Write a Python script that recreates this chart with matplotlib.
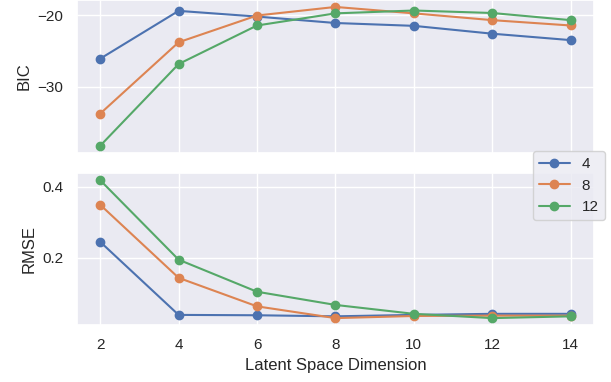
import matplotlib
matplotlib.use("Agg")
import matplotlib.pyplot as plt
import seaborn as sns

sns.set_theme(style="darkgrid")
plt.rcParams['font.family'] = ['Liberation Sans', 'DejaVu Sans']

dims = [2, 4, 6, 8, 10, 12, 14]
labels = ["4", "8", "12"]

bic_4 = [-26.1, -19.4, -20.2, -21.1, -21.5, -22.6, -23.5]
bic_8 = [-33.8, -23.8, -20.05, -18.85, -19.75, -20.7, -21.45]
bic_12 = [-38.3, -26.85, -21.45, -19.75, -19.35, -19.7, -20.7]

rmse_4 = [0.245, 0.040, 0.039, 0.036, 0.040, 0.043, 0.043]
rmse_8 = [0.349, 0.144, 0.064, 0.031, 0.037, 0.038, 0.038]
rmse_12 = [0.418, 0.195, 0.105, 0.068, 0.043, 0.031, 0.036]

fig = plt.figure(figsize=(6.11, 3.82), dpi=100)
ax_bic = fig.add_axes([0.1255, 0.6003, 0.847, 0.3997])
ax_rmse = fig.add_axes([0.1255, 0.1492, 0.847, 0.3971], sharex=ax_bic)

for bic, lab in zip([bic_4, bic_8, bic_12], labels):
    ax_bic.plot(dims, bic, marker="o", label=lab)
for rmse, lab in zip([rmse_4, rmse_8, rmse_12], labels):
    ax_rmse.plot(dims, rmse, marker="o", label=lab)

ax_bic.set_yticks([-20, -30])
ax_rmse.set_yticks([0.2, 0.4])
ax_rmse.set_xticks(dims)
ax_bic.tick_params(labelbottom=False)

ax_bic.set_ylabel("BIC")
ax_rmse.set_ylabel("RMSE")
ax_rmse.set_xlabel("Latent Space Dimension")

handles, labs = ax_rmse.get_legend_handles_labels()
fig.legend(handles, labs, loc="upper right", borderaxespad=0,
           bbox_to_anchor=(0.990, 0.605))

fig.savefig("out.png", dpi=100)
